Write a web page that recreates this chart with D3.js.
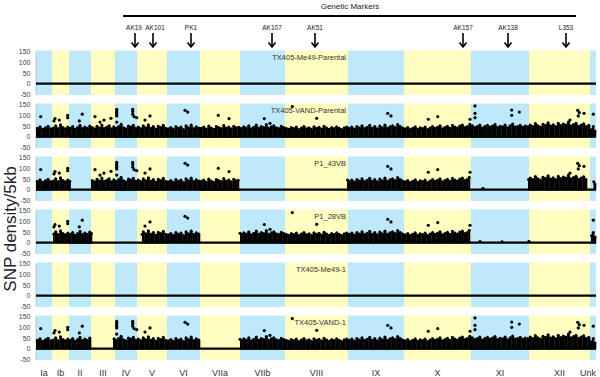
<html>
<head>
<script src="https://d3js.org/d3.v7.min.js"></script>
<style>
  body { margin: 0; background: #fff; }
  svg { font-family: "Liberation Sans", Arial, sans-serif; }
</style>
</head>
<body>
<svg id="svg" width="600" height="377"></svg>
<script>
// chromosomes (length in Mb)
var chromNames = ["Ia","Ib","II","III","IV","V","VI","VIIa","VIIb","VIII","IX","X","XI","XII","Unk"];
var chromLengths = [1.6,1.7,2.2,2.4,2.2,3.0,3.3,4.0,4.5,6.3,5.6,6.7,5.8,6.1,0.6];
var yTicks = [-50, 0, 50, 100, 150];

var markerNames = ["AK19","AK101","PK1","AK107","AK51","AK157","AK138","L353"];
var markerPos = [9.9, 11.7, 15.5, 23.6, 27.9, 42.7, 47.2, 53.0];

var sampleNames = ["TX405-Me49-Parental","TX405-VAND-Parental","P1_43VB","P1_28VB","TX405-Me49-1","TX405-VAND-1"];

// genome intervals (Mb) carrying the VAND SNP band, per sample
var segMe49Parental = [];
var segVandParental = [[0, 56]];
var segP143 = [[0, 3.45], [5.5, 20.3], [31.1, 43.4], [49.2, 55.1], [55.75, 56]];
var segP128 = [[1.7, 5.6], [10.6, 16.4], [20.4, 43.4], [55.5, 56]];
var segMe491 = [];
var segVand1 = [[0, 5.5], [7.7, 16.4], [20.4, 56]];

// upper edge of the dense SNP band (SNPs/5kb), bins spread along each chromosome
var topIa = [38, 45, 34, 41, 48, 36];
var topIb = [40, 50, 37, 55, 42, 36, 44];
var topII = [38, 47, 34, 42, 52, 37, 44, 39, 49];
var topIII = [42, 36, 48, 40, 54, 37, 43, 50, 36, 45];
var topIV = [39, 47, 57, 41, 36, 49, 44, 52, 38];
var topV = [44, 37, 50, 41, 55, 39, 46, 35, 48, 42, 52, 38];
var topVI = [36, 42, 34, 47, 39, 44, 33, 50, 41, 54, 37, 45, 40];
var topVIIa = [38, 44, 35, 49, 40, 34, 46, 42, 37, 51, 39, 44, 36, 48, 41, 43];
var topVIIb = [37, 45, 40, 50, 36, 43, 54, 39, 47, 42, 56, 38, 45, 50, 41, 37, 48, 42];
var topVIII = [39, 34, 42, 37, 44, 33, 40, 47, 36, 41, 34, 45, 38, 43, 35, 48, 40, 34, 42, 37, 45, 39, 33, 41, 44];
var topIX = [38, 44, 35, 47, 40, 50, 37, 43, 52, 39, 46, 36, 49, 41, 54, 38, 45, 50, 42, 56, 47, 40];
var topX = [36, 42, 33, 39, 45, 34, 41, 37, 44, 33, 40, 47, 38, 43, 50, 36, 42, 48, 39, 52, 44, 40, 49, 54, 42, 47, 57];
var topXI = [50, 42, 47, 54, 40, 46, 52, 44, 49, 56, 42, 48, 45, 53, 41, 50, 58, 44, 47, 52, 43, 49, 46];
var topXII = [54, 47, 60, 50, 44, 57, 52, 64, 49, 55, 46, 62, 51, 58, 53, 67, 50, 56, 61, 48, 54, 59, 47, 52];
var topUnk = [32, 36, 26];
var bandLow = [4, 5, 3, 4, 3, 4, 5, 3, 4, 3, 4, 4, 3, 4, 5];

// isolated high-density windows [Mb, SNPs/5kb]
var outliers = [[0.47,92],[1.8,72],[1.9,83],[2.33,76],[3.17,98],[3.17,87],[4.33,72],[4.63,103],[5.9,92],[6.4,67],[6.8,76],[7.5,84],
  [8.07,125],[8.07,118],[8.07,110],[8.07,103],[8.07,95],[8.07,67],
  [9.67,125],[9.67,115],[9.67,103],[9.8,92],[10.07,87],[10.9,76],[11.4,95],
  [14.9,121],[15.17,113],[18.23,98],[19.3,83],[22.83,83],[23.4,61],[25.63,138],[28.07,84],[35.17,107],[35.5,95],
  [39.23,80],[40.17,92],[43.4,80],[43.9,141],[43.9,107],[43.9,87],[47.57,122],[47.57,98],[48.33,113],
  [53.4,76],[54.17,121],[54.33,110],[54.8,107],[54.23,95],[55.73,103],[55.73,46]];
// scattered windows in Me49-inherited regions
var lowP143 = [[44.7, 6]];
var lowP128 = [[44.4, 5], [46.6, 4], [49.3, 6]];

var chromTops = [topIa, topIb, topII, topIII, topIV, topV, topVI, topVIIa, topVIIb, topVIII, topIX, topX, topXI, topXII, topUnk];
var sampleSegs = [segMe49Parental, segVandParental, segP143, segP128, segMe491, segVand1];
var sampleLow = [[], [], lowP143, lowP128, [], []];

var svg = d3.select("svg");
var blue = "#bde9fa", yellow = "#fffdbf";
var panelTop = 51, panelStep = 53, panelH = 43.5;

var starts = [];
var acc = 0;
chromLengths.forEach(function(l) { starts.push(acc); acc += l; });

var x = d3.scaleLinear().domain([0, acc]).range([36, 596]);

// bins of the band
var bins = [];
chromTops.forEach(function(tops, c) {
  var w = chromLengths[c] / tops.length;
  tops.forEach(function(t, i) {
    bins.push({s: starts[c] + i * w, e: starts[c] + (i + 1) * w, top: t, low: bandLow[c]});
  });
});

function inSegs(segs, p) {
  return segs.some(function(s) { return p >= s[0] && p <= s[1]; });
}

sampleNames.forEach(function(name, k) {
  var top = panelTop + k * panelStep;
  var y = d3.scaleLinear().domain([-50, 150]).range([top + panelH, top]);
  var g = svg.append("g");

  g.selectAll("rect.chr").data(chromNames).enter().append("rect")
    .attr("x", function(d, i) { return x(starts[i]); })
    .attr("width", function(d, i) { return x(starts[i] + chromLengths[i]) - x(starts[i]); })
    .attr("y", y(150) - 0.5)
    .attr("height", y(-52) - y(150) + 0.5)
    .attr("fill", function(d, i) { return i % 2 == 0 ? blue : yellow; });

  var axis = d3.axisLeft(y).tickValues(yTicks).tickSize(0).tickPadding(5)
    .tickFormat(function(d) { return String(d); });
  var ag = g.append("g").attr("transform", "translate(35.5,0)").call(axis);
  ag.select(".domain").attr("stroke", "#aaa").attr("stroke-width", 0.6);
  ag.selectAll("text").attr("font-size", 7).attr("fill", "#444")
    .attr("font-family", "Liberation Sans, Arial, sans-serif");

  g.append("line")
    .attr("x1", x(0)).attr("x2", x(acc))
    .attr("y1", y(0)).attr("y2", y(0))
    .attr("stroke", "#000").attr("stroke-width", 2.4);

  var segs = sampleSegs[k];
  var pieces = [];
  bins.forEach(function(b) {
    segs.forEach(function(s) {
      var a = Math.max(b.s, s[0]), e = Math.min(b.e, s[1]);
      if (e > a) pieces.push({s: a, e: e, top: b.top, low: b.low});
    });
  });

  g.selectAll("rect.band").data(pieces).enter().append("rect")
    .attr("x", function(d) { return x(d.s); })
    .attr("width", function(d) { return x(d.e) - x(d.s) + 0.3; })
    .attr("y", function(d) { return y(d.top); })
    .attr("height", function(d) { return y(d.low - 8) - y(d.top); })
    .attr("fill", "#000");

  g.selectAll("circle.cap").data(pieces).enter().append("circle")
    .attr("cx", function(d) { return x((d.s + d.e) / 2); })
    .attr("cy", function(d) { return y(d.top); })
    .attr("r", 1.5)
    .attr("fill", "#000");

  var pts = outliers.filter(function(o) { return inSegs(segs, o[0]); }).concat(sampleLow[k]);
  g.selectAll("circle.out").data(pts).enter().append("circle")
    .attr("cx", function(d) { return x(d[0]); })
    .attr("cy", function(d) { return y(d[1]); })
    .attr("r", 1.6)
    .attr("fill", "#000");

  g.append("text")
    .attr("x", 346).attr("y", top + 9)
    .attr("text-anchor", "end")
    .attr("font-size", 7.5)
    .attr("fill", "#333")
    .text(name);
});

// chromosome labels
svg.selectAll("text.chr").data(chromNames).enter().append("text")
  .attr("x", function(d, i) { return x(starts[i] + chromLengths[i] / 2); })
  .attr("y", 376)
  .attr("text-anchor", function(d) { return d == "Unk" ? "end" : "middle"; })
  .attr("dx", function(d) { return d == "Unk" ? 3 : 0; })
  .attr("font-size", 9)
  .attr("fill", "#333")
  .text(function(d) { return d; });

// genetic markers
svg.append("text").attr("x", 350).attr("y", 9).attr("text-anchor", "middle")
  .attr("font-size", 8).attr("fill", "#222").text("Genetic Markers");
svg.append("line").attr("x1", 123).attr("x2", 576).attr("y1", 16).attr("y2", 16)
  .attr("stroke", "#000").attr("stroke-width", 1.8);

var mk = svg.selectAll("g.mk").data(markerNames).enter().append("g")
  .attr("transform", function(d, i) { return "translate(" + x(markerPos[i]) + ",0)"; });
mk.append("text").attr("y", 30).attr("text-anchor", "middle")
  .attr("dx", function(d) { return d == "AK101" ? 2 : (d == "AK19" ? -1 : 0); })
  .attr("font-size", 6.5).attr("fill", "#222").text(function(d) { return d; });
mk.append("line").attr("x1", 0).attr("x2", 0).attr("y1", 33).attr("y2", 47)
  .attr("stroke", "#000").attr("stroke-width", 1.6);
mk.append("path").attr("d", "M-3.5,42.5L0,47L3.5,42.5")
  .attr("fill", "none").attr("stroke", "#000").attr("stroke-width", 1.6);

// y label
svg.append("text")
  .attr("transform", "translate(16,229) rotate(-90)")
  .attr("text-anchor", "middle")
  .attr("font-size", 17)
  .attr("fill", "#222")
  .text("SNP density/5kb");
</script>
</body>
</html>
